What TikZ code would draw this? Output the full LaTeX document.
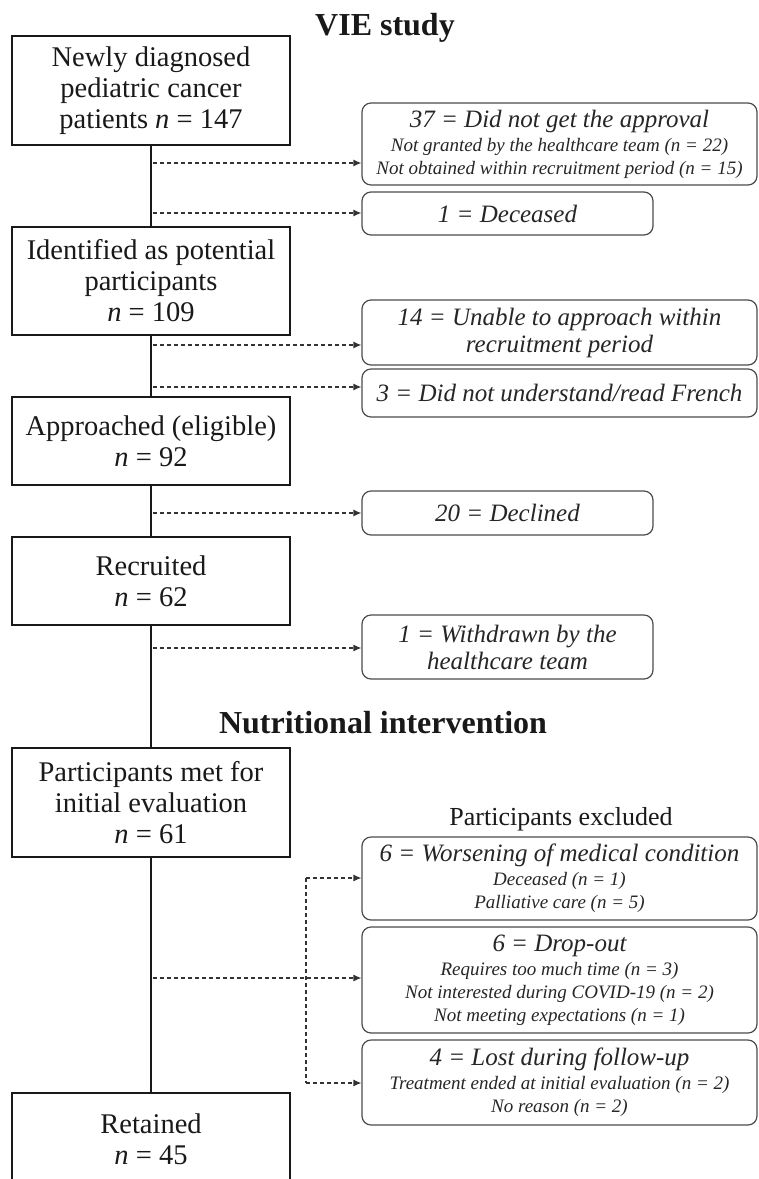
\documentclass[tikz,border=0pt]{standalone}
\usepackage{fontspec}
\setmainfont{Liberation Serif}
\usetikzlibrary{arrows.meta}
\newcommand{\hdline}[1]{{\fontsize{25}{28}\selectfont #1}}
\begin{document}
\begin{tikzpicture}[x=1pt,y=-1pt,
  mainbox/.style={draw=black!90, line width=1.8pt, minimum width=278pt, inner sep=0pt, align=center,
    font=\fontsize{28.5}{31}\selectfont, text=black!90},
  sidebox/.style={draw=black!70, line width=1.2pt, rounded corners=9pt, inner sep=0pt, align=center,
    font=\itshape\fontsize{19}{23}\selectfont, text=black!85},
  title/.style={font=\bfseries\fontsize{32}{36}\selectfont, text=black!90, inner sep=0pt},
  mainline/.style={draw=black!90, line width=1.6pt},
  dasharrow/.style={draw=black!80, line width=1.2pt, dash pattern=on 4pt off 3pt,
    -{Latex[length=8pt,width=7pt]}},
  dashline/.style={draw=black!80, line width=1.2pt, dash pattern=on 4pt off 3pt}
]
\useasboundingbox (0,0) rectangle (759,1179);
\fill[white] (0,0) rectangle (759,1179);

% titles
\node[title] (t1) at (385,28) {VIE study};
\node[title] (t2) at (383,723) {Nutritional intervention};
\node[font=\fontsize{26}{30}\selectfont, text=black!90, inner sep=0pt] (pe) at (561,819) {Participants excluded};

% main boxes
\node[mainbox, minimum height=109pt] (b1) at (151,90.5) {Newly diagnosed\\pediatric cancer\\patients \textit{n} = 147};
\node[mainbox, minimum height=108pt] (b2) at (151,281) {Identified as potential\\participants\\\textit{n} = 109};
\node[mainbox, minimum height=88pt] (b3) at (151,441) {Approached (eligible)\\\textit{n} = 92};
\node[mainbox, minimum height=88pt] (b4) at (151,581) {Recruited\\\textit{n} = 62};
\node[mainbox, minimum height=109pt] (b5) at (151,802.5) {Participants met for\\initial evaluation\\\textit{n} = 61};
\node[mainbox, minimum height=92pt] (b6) at (151,1139) {Retained\\\textit{n} = 45};

% side boxes
\node[sidebox, minimum width=395pt, minimum height=82pt] (r1) at (559.5,144)
  {\hdline{37 = Did not get the approval}\\[1pt]Not granted by the healthcare team (\textit{n} = 22)\\Not obtained within recruitment period (\textit{n} = 15)};
\node[sidebox, minimum width=291pt, minimum height=43pt] (r2) at (507.5,213.5)
  {\hdline{1 = Deceased}};
\node[sidebox, minimum width=395pt, minimum height=65pt] (r3) at (559.5,332.5)
  {\hdline{14 = Unable to approach within}\\[4pt]\hdline{recruitment period}};
\node[sidebox, minimum width=395pt, minimum height=48pt] (r4) at (559.5,393)
  {\hdline{3 = Did not understand/read French}};
\node[sidebox, minimum width=291pt, minimum height=44pt] (r5) at (507.5,513)
  {\hdline{20 = Declined}};
\node[sidebox, minimum width=291pt, minimum height=64pt] (r6) at (507.5,647)
  {\hdline{1 = Withdrawn by the}\\[4pt]\hdline{healthcare team}};
\node[sidebox, minimum width=395pt, minimum height=83pt] (r7) at (559.5,878.5)
  {\hdline{6 = Worsening of medical condition}\\[1pt]Deceased (\textit{n} = 1)\\Palliative care (\textit{n} = 5)};
\node[sidebox, minimum width=395pt, minimum height=106pt] (r8) at (559.5,980)
  {\hdline{6 = Drop-out}\\[1pt]Requires too much time (\textit{n} = 3)\\Not interested during COVID-19 (\textit{n} = 2)\\Not meeting expectations (\textit{n} = 1)};
\node[sidebox, minimum width=395pt, minimum height=85pt] (r9) at (559.5,1082.5)
  {\hdline{4 = Lost during follow-up}\\[1pt]Treatment ended at initial evaluation (\textit{n} = 2)\\No reason (\textit{n} = 2)};

% main line
\draw[mainline] (b1.south) -- (b2.north);
\draw[mainline] (b2.south) -- (b3.north);
\draw[mainline] (b3.south) -- (b4.north);
\draw[mainline] (b4.south) -- (b5.north);
\draw[mainline] (b5.south) -- (b6.north);

% branch points
\coordinate (s1) at (153,163);
\coordinate (s2) at (153,213);
\coordinate (s3) at (153,345);
\coordinate (s4) at (153,387);
\coordinate (s5) at (153,513);
\coordinate (s6) at (153,648);
\coordinate (s7) at (153,978);
\coordinate (kt) at (306,878);
\coordinate (kb) at (306,1083);

\draw[dasharrow] (s1) -- (s1 -| r1.west);
\draw[dasharrow] (s2) -- (s2 -| r2.west);
\draw[dasharrow] (s3) -- (s3 -| r3.west);
\draw[dasharrow] (s4) -- (s4 -| r4.west);
\draw[dasharrow] (s5) -- (s5 -| r5.west);
\draw[dasharrow] (s6) -- (s6 -| r6.west);
\draw[dasharrow] (s7) -- (s7 -| r8.west);
\draw[dashline] (kt) -- (kb);
\draw[dasharrow] (kt) -- (kt -| r7.west);
\draw[dasharrow] (kb) -- (kb -| r9.west);
\end{tikzpicture}
\end{document}
